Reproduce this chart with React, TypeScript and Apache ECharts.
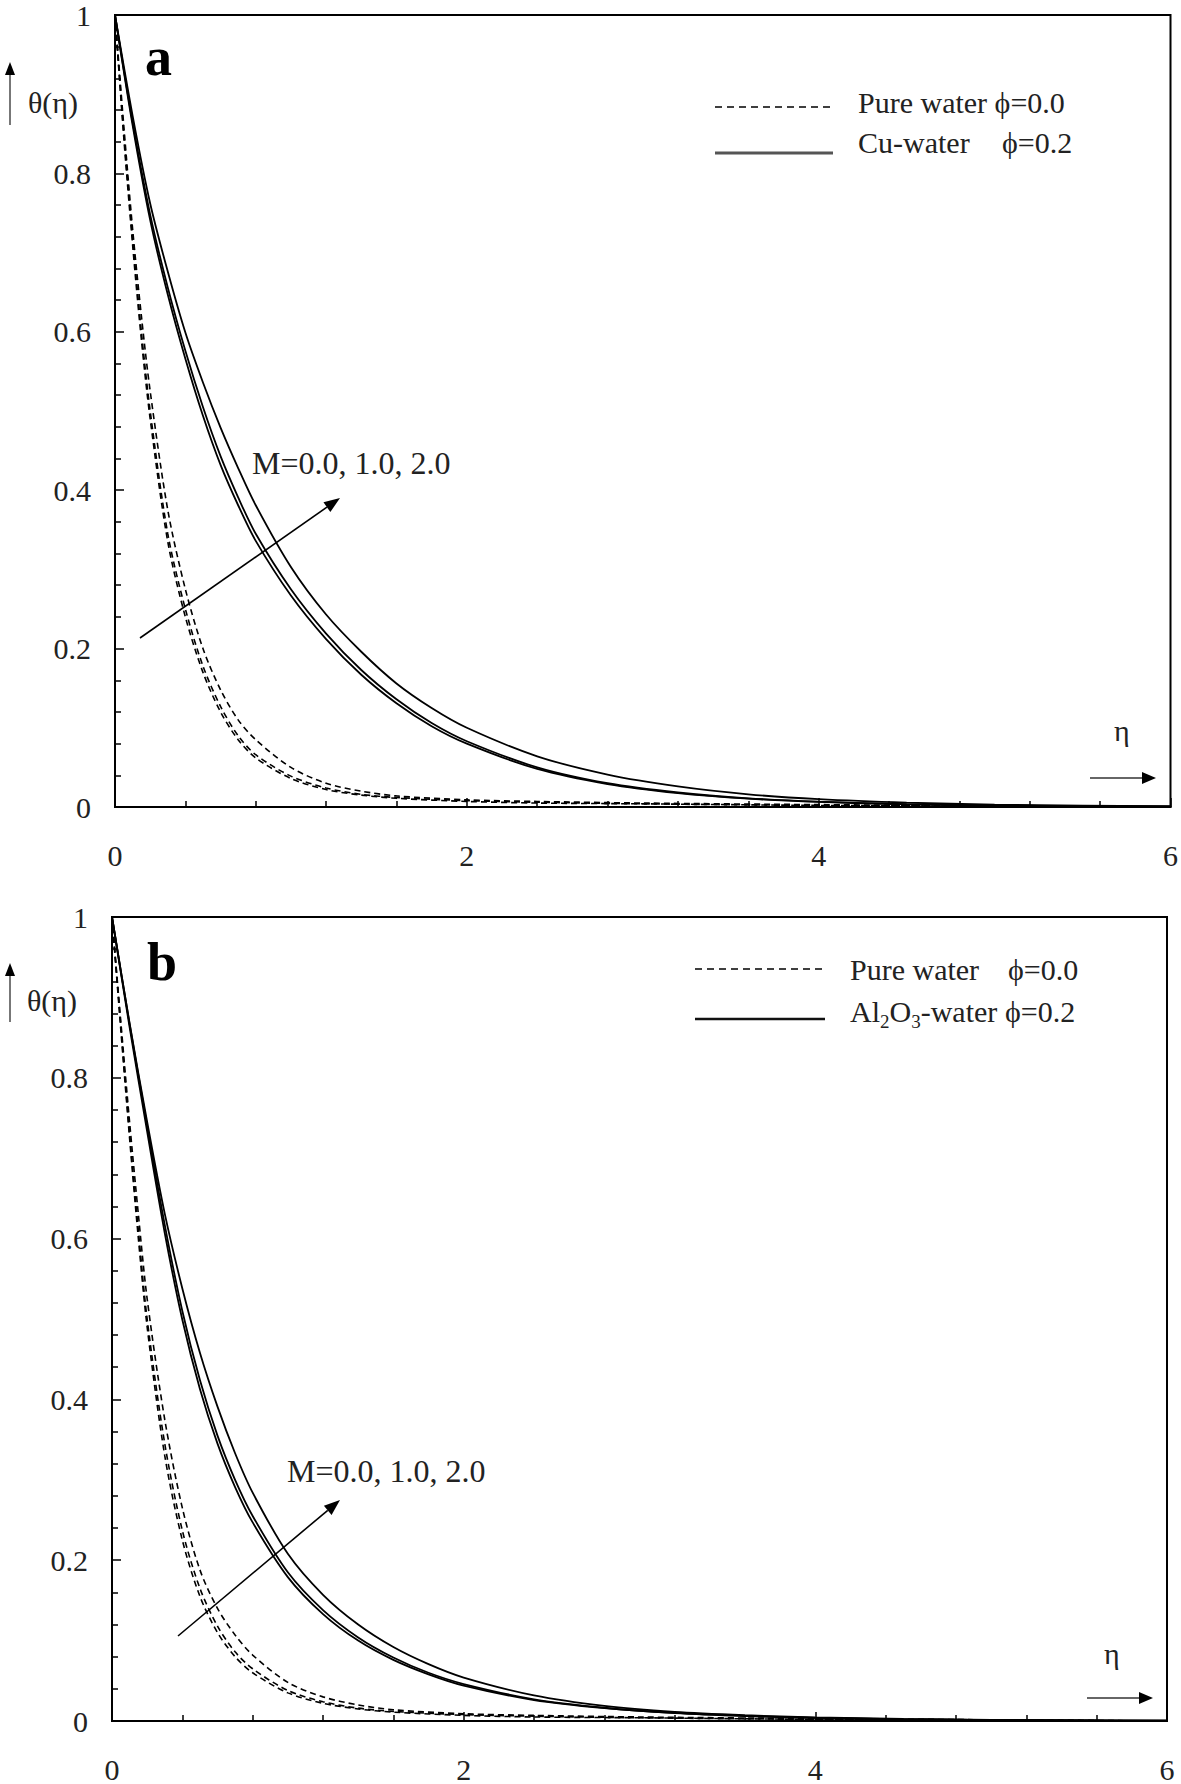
import React, { useEffect, useRef } from "react";
import * as echarts from "echarts";

// ---- data ----
const etaSolid = [0, 0.1, 0.2, 0.3, 0.4, 0.5, 0.6, 0.7, 0.8, 1.0, 1.2, 1.4, 1.6, 1.8, 2.0, 2.4, 2.8, 3.2, 3.6, 4.0, 4.5, 5.0, 5.5, 6.0];
const etaDash = [0, 0.05, 0.1, 0.15, 0.2, 0.3, 0.4, 0.5, 0.6, 0.7, 0.8, 1.0, 1.2, 1.4, 1.6, 2.0, 2.4, 3.0, 4.0, 5.0, 6.0];

// panel a : Cu-water phi=0.2
const cuM0 = [1, 0.861, 0.741, 0.647, 0.566, 0.494, 0.432, 0.381, 0.336, 0.267, 0.212, 0.167, 0.131, 0.102, 0.08, 0.048, 0.029, 0.0176, 0.0106, 0.0064, 0.0034, 0.0018, 0.001, 0.0005];
const cuM1 = [1, 0.865, 0.748, 0.656, 0.576, 0.505, 0.443, 0.391, 0.345, 0.275, 0.219, 0.173, 0.136, 0.106, 0.083, 0.05, 0.03, 0.0183, 0.011, 0.0067, 0.0036, 0.0019, 0.001, 0.0005];
const cuM2 = [1, 0.873, 0.762, 0.676, 0.599, 0.536, 0.479, 0.428, 0.381, 0.303, 0.243, 0.196, 0.156, 0.125, 0.1, 0.064, 0.041, 0.026, 0.016, 0.0099, 0.0055, 0.003, 0.0017, 0.001];
// panel a : pure water phi=0.0
const pwaM0 = [1, 0.845, 0.71, 0.59, 0.49, 0.335, 0.24, 0.17, 0.12, 0.085, 0.062, 0.036, 0.022, 0.015, 0.011, 0.007, 0.005, 0.004, 0.002, 0.001, 0];
const pwaM1 = [1, 0.85, 0.718, 0.6, 0.5, 0.345, 0.25, 0.178, 0.127, 0.09, 0.066, 0.039, 0.024, 0.016, 0.012, 0.008, 0.006, 0.004, 0.002, 0.001, 0];
const pwaM2 = [1, 0.86, 0.73, 0.62, 0.525, 0.375, 0.275, 0.2, 0.148, 0.11, 0.085, 0.05, 0.03, 0.02, 0.014, 0.009, 0.007, 0.005, 0.003, 0.0015, 0];

// panel b : Al2O3-water phi=0.2
const alM0 = [1, 0.863, 0.733, 0.607, 0.499, 0.413, 0.345, 0.291, 0.247, 0.179, 0.133, 0.1, 0.076, 0.058, 0.044, 0.026, 0.016, 0.0098, 0.0061, 0.0038, 0.0021, 0.0012, 0.0007, 0.0004];
const alM1 = [1, 0.867, 0.74, 0.617, 0.51, 0.424, 0.355, 0.3, 0.255, 0.185, 0.138, 0.104, 0.079, 0.06, 0.046, 0.027, 0.0165, 0.01, 0.0063, 0.0039, 0.0022, 0.0012, 0.0007, 0.0004];
const alM2 = [1, 0.868, 0.745, 0.631, 0.538, 0.458, 0.391, 0.333, 0.284, 0.208, 0.157, 0.12, 0.092, 0.0707, 0.054, 0.0318, 0.0187, 0.0113, 0.0072, 0.0045, 0.0026, 0.0015, 0.0009, 0.0005];
// panel b : pure water phi=0.0
const pwbM0 = [1, 0.86, 0.725, 0.6, 0.49, 0.33, 0.225, 0.155, 0.11, 0.08, 0.06, 0.035, 0.022, 0.015, 0.011, 0.007, 0.005, 0.004, 0.002, 0.001, 0];
const pwbM1 = [1, 0.865, 0.73, 0.61, 0.5, 0.345, 0.237, 0.165, 0.118, 0.086, 0.065, 0.038, 0.024, 0.016, 0.012, 0.008, 0.006, 0.004, 0.002, 0.001, 0];
const pwbM2 = [1, 0.87, 0.745, 0.63, 0.525, 0.375, 0.265, 0.188, 0.14, 0.107, 0.082, 0.048, 0.03, 0.02, 0.014, 0.009, 0.007, 0.005, 0.003, 0.0015, 0];

const xTicks = { min: 0, max: 6, interval: 2 };
const yTicks = { min: 0, max: 1, interval: 0.2 };

const FONT = '"Liberation Serif", "Times New Roman", serif';

function pairs(xs: number[], ys: number[]) {
  return xs.map((x, i) => [x, ys[i]]);
}

function arrow(x1: number, y1: number, x2: number, y2: number, headLen = 15, halfW = 6, shaft = "#000", w = 1.6) {
  const dx = x2 - x1, dy = y2 - y1;
  const L = Math.sqrt(dx * dx + dy * dy);
  const ux = dx / L, uy = dy / L;
  const bx = x2 - ux * headLen, by = y2 - uy * headLen;
  const px = -uy, py = ux;
  return [
    { type: "line", shape: { x1, y1, x2: bx, y2: by }, style: { stroke: shaft, lineWidth: w } },
    {
      type: "polygon",
      shape: { points: [[x2, y2], [bx + px * halfW, by + py * halfW], [bx - px * halfW, by - py * halfW]] },
      style: { fill: "#000" },
    },
  ];
}

function txt(x: number, baseline: number, text: string, size: number, extra: any = {}) {
  return {
    type: "text",
    x,
    y: baseline - 0.34 * size,
    style: {
      text,
      fontFamily: FONT,
      fontSize: size,
      fill: "#222",
      align: "left",
      verticalAlign: "middle",
      ...extra,
    },
  };
}

function axisPair(gridIndex: number) {
  const tickStyle = { color: "#000", width: 1.5 };
  const common = {
    gridIndex,
    type: "value",
    axisLine: { show: true, lineStyle: { color: "#000", width: 2 } },
    axisTick: { show: true, inside: true, length: 9, lineStyle: tickStyle },
    minorTick: { show: true, splitNumber: 5, length: 6, lineStyle: tickStyle },
    splitLine: { show: false },
    minorSplitLine: { show: false },
    axisLabel: { color: "#222", fontFamily: FONT, fontSize: 30, showMinLabel: true, showMaxLabel: true },
  };
  return {
    x: { ...common, ...xTicks, axisLabel: { ...common.axisLabel, margin: 33 } },
    y: { ...common, ...yTicks, axisLabel: { ...common.axisLabel, margin: 24 } },
  };
}

function solid(name: string, xi: number, ys: number[]) {
  return {
    type: "line",
    name,
    xAxisIndex: xi,
    yAxisIndex: xi,
    data: pairs(etaSolid, ys),
    showSymbol: false,
    smooth: 0.3,
    lineStyle: { color: "#000", width: 1.8 },
  };
}
function dashed(name: string, xi: number, ys: number[]) {
  return {
    type: "line",
    name,
    xAxisIndex: xi,
    yAxisIndex: xi,
    data: pairs(etaDash, ys),
    showSymbol: false,
    smooth: 0.3,
    lineStyle: { color: "#000", width: 1.6, type: [6, 4] },
  };
}

export default function App() {
  const ref = useRef<HTMLDivElement>(null);
  useEffect(() => {
    document.body.style.margin = "0";
    const chart = echarts.init(ref.current!, null, { renderer: "svg" });
    const a = axisPair(0);
    const b = axisPair(1);
    const graphic: any[] = [
      // panel a
      txt(145, 75, "a", 54, { fontWeight: "bold", fill: "#000" }),
      txt(28, 113, "θ(η)", 30),
      ...arrow(10, 125, 10, 62, 13, 5, "#777", 2),
      { type: "line", shape: { x1: 715, y1: 107, x2: 833, y2: 107 }, style: { stroke: "#000", lineWidth: 1.5, lineDash: [7, 5] } },
      { type: "line", shape: { x1: 715, y1: 153, x2: 833, y2: 153 }, style: { stroke: "#555", lineWidth: 3 } },
      txt(858, 113, "Pure water ϕ=0.0", 30),
      txt(858, 153, "Cu-water", 30),
      txt(1002, 153, "ϕ=0.2", 30),
      txt(252, 474, "M=0.0, 1.0, 2.0", 32),
      ...arrow(140, 638, 340, 498, 16, 6),
      txt(1114, 741, "η", 30),
      ...arrow(1090, 778, 1156, 778, 14, 6, "#666", 2),
      // panel b
      txt(147, 980, "b", 54, { fontWeight: "bold", fill: "#000" }),
      txt(27, 1011, "θ(η)", 30),
      ...arrow(10, 1022, 10, 963, 13, 5, "#777", 2),
      { type: "line", shape: { x1: 695, y1: 969, x2: 825, y2: 969 }, style: { stroke: "#000", lineWidth: 1.5, lineDash: [7, 5] } },
      { type: "line", shape: { x1: 695, y1: 1019, x2: 825, y2: 1019 }, style: { stroke: "#111", lineWidth: 2.5 } },
      txt(850, 980, "Pure water", 30),
      txt(1008, 980, "ϕ=0.0", 30),
      txt(850, 1022, "Al", 30),
      txt(880, 1028, "2", 19),
      txt(889.5, 1022, "O", 30),
      txt(911.2, 1028, "3", 19),
      txt(920.7, 1022, "-water", 30),
      txt(1005, 1022, "ϕ=0.2", 30),
      txt(287, 1482, "M=0.0, 1.0, 2.0", 32),
      ...arrow(178, 1636, 340, 1500, 16, 6),
      txt(1104, 1664, "η", 30),
      ...arrow(1087, 1698, 1153, 1698, 14, 6, "#666", 2),
    ];

    chart.setOption({
      animation: false,
      backgroundColor: "#fff",
      grid: [
        { left: 115, top: 13, width: 1057, height: 794, show: true, borderColor: "#000", borderWidth: 2, backgroundColor: "transparent" },
        { left: 112, top: 917, width: 1055, height: 805, show: true, borderColor: "#000", borderWidth: 2, backgroundColor: "transparent" },
      ],
      xAxis: [a.x, b.x],
      yAxis: [a.y, b.y],
      series: [
        dashed("Pure water φ=0.0, M=0.0 (a)", 0, pwaM0),
        dashed("Pure water φ=0.0, M=1.0 (a)", 0, pwaM1),
        dashed("Pure water φ=0.0, M=2.0 (a)", 0, pwaM2),
        solid("Cu-water φ=0.2, M=0.0", 0, cuM0),
        solid("Cu-water φ=0.2, M=1.0", 0, cuM1),
        solid("Cu-water φ=0.2, M=2.0", 0, cuM2),
        dashed("Pure water φ=0.0, M=0.0 (b)", 1, pwbM0),
        dashed("Pure water φ=0.0, M=1.0 (b)", 1, pwbM1),
        dashed("Pure water φ=0.0, M=2.0 (b)", 1, pwbM2),
        solid("Al2O3-water φ=0.2, M=0.0", 1, alM0),
        solid("Al2O3-water φ=0.2, M=1.0", 1, alM1),
        solid("Al2O3-water φ=0.2, M=2.0", 1, alM2),
      ],
      graphic,
    });
    return () => chart.dispose();
  }, []);
  return <div ref={ref} style={{ width: 1181, height: 1784 }} />;
}
